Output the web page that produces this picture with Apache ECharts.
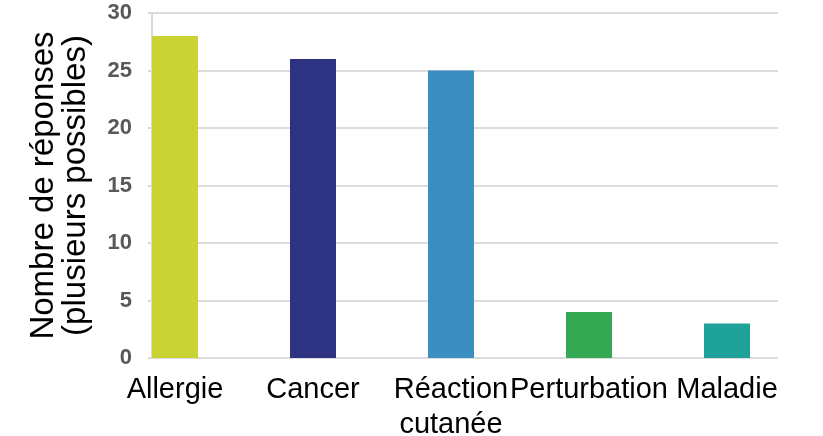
<!DOCTYPE html>
<html>
<head>
<meta charset="utf-8">
<script src="https://cdn.jsdelivr.net/npm/echarts@6/dist/echarts.min.js"></script>
<style>
    html, body { margin: 0; padding: 0; background: #fff; }
    #chart { width: 823px; height: 436px; }
</style>
</head>
<body>
<div id="chart"></div>
<script>
// ======================
// DATA
// ======================

const categories = ['Allergie', 'Cancer', 'Réaction\ncutanée', 'Perturbation', 'Maladie'];
const responses = [28, 26, 25, 4, 3];
const barColors = ['#c9d334', '#2d3282', '#3b8ec0', '#34a853', '#1ea198'];
const yTicks = { min: 0, max: 30, interval: 5 };

// ======================
// CHART
// ======================

const chart = echarts.init(document.getElementById('chart'), null, { renderer: 'canvas' });

const gridTop = 13;
const gridBottom = 78;

const option = {
    animation: false,
    grid: [
        // axe des valeurs + quadrillage
        { left: 152, right: 45, top: gridTop, bottom: gridBottom, outerBoundsMode: 'none' },
        // barres + libellés
        { left: 106, right: 27, top: gridTop, bottom: gridBottom, outerBoundsMode: 'none' }
    ],
    xAxis: [
        { gridIndex: 0, type: 'value', show: false },
        {
            gridIndex: 1,
            type: 'category',
            data: categories,
            axisLine: { show: false },
            axisTick: { show: false },
            axisLabel: {
                margin: 14,
                color: '#000',
                fontFamily: 'Liberation Sans',
                fontSize: 29,
                lineHeight: 35,
                interval: 0
            }
        }
    ],
    yAxis: [
        {
            gridIndex: 0,
            type: 'value',
            min: yTicks.min,
            max: yTicks.max,
            interval: yTicks.interval,
            name: 'Nombre de réponses\n(plusieurs possibles)',
            nameLocation: 'middle',
            nameGap: 60,
            nameTextStyle: {
                color: '#000',
                fontFamily: 'Liberation Sans',
                fontSize: 33,
                lineHeight: 32
            },
            axisLine: { show: true, lineStyle: { color: '#d9d9d9', width: 2 } },
            axisTick: { show: true, length: 4, lineStyle: { color: '#d9d9d9', width: 2 } },
            splitLine: { lineStyle: { color: '#dcdcdc', width: 2 } },
            axisLabel: {
                margin: 20,
                color: '#595959',
                fontFamily: 'Liberation Sans',
                fontWeight: 'bold',
                fontSize: 22
            }
        },
        {
            gridIndex: 1,
            type: 'value',
            min: yTicks.min,
            max: yTicks.max,
            show: false
        }
    ],
    series: [{
        type: 'bar',
        xAxisIndex: 1,
        yAxisIndex: 1,
        barWidth: 46,
        data: responses.map((v, i) => ({ value: v, itemStyle: { color: barColors[i] } }))
    }]
};

chart.setOption(option);
</script>
</body>
</html>
